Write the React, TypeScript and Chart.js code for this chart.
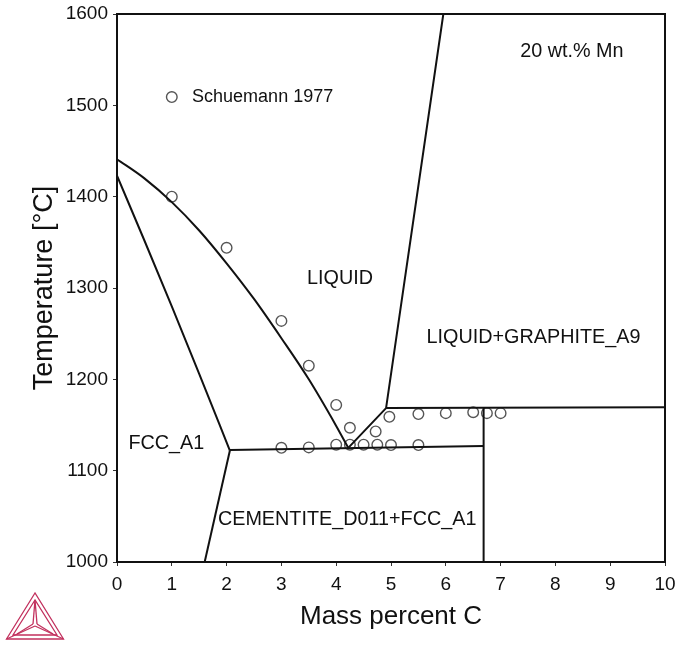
import React, { useEffect, useRef } from "react";
import { Chart, registerables } from "chart.js";

Chart.register(...registerables);

// ---- axis ticks ----
const xTickValues = [0, 1, 2, 3, 4, 5, 6, 7, 8, 9, 10];
const yTickValues = [1000, 1100, 1200, 1300, 1400, 1500, 1600];

// ---- phase boundaries (mass % C, temperature °C) ----
const liquidusFccC = [0, 0.5, 1.0, 1.5, 2.0, 2.5, 3.0, 3.5, 4.0, 4.22];
const liquidusFccT = [1441, 1420, 1394, 1363, 1327, 1288, 1245, 1200, 1149, 1125];

const solidusC = [0, 0.5, 1.0, 1.5, 2.06];
const solidusT = [1423, 1352, 1280, 1206, 1122];

const fccCementiteC = [2.06, 1.6];
const fccCementiteT = [1122, 1000];

const eutecticC = [2.06, 6.69];
const eutecticT = [1122.5, 1127];

const cementiteGraphiteC = [6.69, 6.69];
const cementiteGraphiteT = [1000, 1168.7];

const liquidusGraphiteC = [4.22, 4.91, 5.955];
const liquidusGraphiteT = [1125, 1168.5, 1600];

const graphiteHorizontalC = [4.91, 10];
const graphiteHorizontalT = [1168.5, 1169.5];

// ---- experimental points (Schuemann 1977) ----
const schuemannC = [1.0, 2.0, 3.0, 3.5, 4.0, 4.25, 4.72, 4.97, 5.5, 6.0, 6.5, 6.75, 7.0,
  3.0, 3.5, 4.0, 4.25, 4.5, 4.75, 5.0, 5.5];
const schuemannT = [1400, 1344, 1264, 1215, 1172, 1147, 1143, 1159, 1162, 1163, 1164, 1163, 1163,
  1125, 1125.5, 1128.5, 1128.5, 1128.5, 1128.5, 1128, 1128];

// ---- annotations ----
const legendLabel = "Schuemann 1977";
const legendMarkerC = 1.0;
const legendMarkerT = 1509;
const legendTextC = 1.37;

const regionLabels = [
  { text: "LIQUID", c: 4.07, t: 1310 },
  { text: "LIQUID+GRAPHITE_A9", c: 7.6, t: 1246 },
  { text: "FCC_A1", c: 0.9, t: 1130 },
  { text: "CEMENTITE_D011+FCC_A1", c: 4.2, t: 1046 },
  { text: "20 wt.% Mn", c: 8.3, t: 1559 },
];

const FONT = '"Liberation Sans", Arial, sans-serif';

const toPoints = (xs: number[], ys: number[]) => xs.map((x, i) => ({ x, y: ys[i] }));

const annotationPlugin = {
  id: "annotations",
  afterDatasetsDraw(chart: any) {
    const { ctx, chartArea, scales } = chart;
    const xs = scales.x;
    const ys = scales.y;
    ctx.save();
    // frame
    ctx.strokeStyle = "#111";
    ctx.lineWidth = 2;
    ctx.strokeRect(chartArea.left, chartArea.top, chartArea.right - chartArea.left, chartArea.bottom - chartArea.top);

    // region labels
    ctx.fillStyle = "#111";
    ctx.font = `19.8px ${FONT}`;
    ctx.textBaseline = "middle";
    ctx.textAlign = "center";
    for (const l of regionLabels) {
      ctx.fillText(l.text, xs.getPixelForValue(l.c), ys.getPixelForValue(l.t));
    }

    // legend
    ctx.beginPath();
    ctx.strokeStyle = "#555";
    ctx.lineWidth = 1.4;
    ctx.arc(xs.getPixelForValue(legendMarkerC), ys.getPixelForValue(legendMarkerT), 5.3, 0, Math.PI * 2);
    ctx.stroke();
    ctx.textAlign = "left";
    ctx.font = `18px ${FONT}`;
    ctx.fillText(legendLabel, xs.getPixelForValue(legendTextC), ys.getPixelForValue(legendMarkerT));
    ctx.restore();
  },
  afterDraw(chart: any) {
    // Thermo-Calc logo (decoration)
    const ctx = chart.ctx;
    ctx.save();
    ctx.strokeStyle = "#c2315e";
    ctx.lineWidth = 1.3;
    const tri = (a: number[], b: number[], c: number[]) => {
      ctx.beginPath();
      ctx.moveTo(a[0], a[1]);
      ctx.lineTo(b[0], b[1]);
      ctx.lineTo(c[0], c[1]);
      ctx.closePath();
      ctx.stroke();
    };
    const line = (a: number[], b: number[]) => {
      ctx.beginPath();
      ctx.moveTo(a[0], a[1]);
      ctx.lineTo(b[0], b[1]);
      ctx.stroke();
    };
    const A = [35, 593], B = [6.5, 639], C = [63.5, 639];
    const a = [35, 600], b = [13, 635], c = [57, 635];
    const O = [35, 626];
    tri(A, B, C);
    tri(a, b, c);
    line(a, [33, 624]);
    line(a, [37, 624]);
    line(O, B);
    line(O, C);
    line([33, 624], [17, 634]);
    line([37, 624], [53, 634]);
    ctx.restore();
  },
};

export default function App() {
  const canvasRef = useRef<HTMLCanvasElement | null>(null);

  useEffect(() => {
    if (!canvasRef.current) return;
    const lineStyle = {
      showLine: true,
      pointRadius: 0,
      pointHoverRadius: 0,
      borderColor: "#111",
      borderWidth: 2,
      fill: false,
    };
    const chart = new Chart(canvasRef.current, {
      type: "scatter",
      data: {
        datasets: [
          { ...lineStyle, label: "liquidus FCC", data: toPoints(liquidusFccC, liquidusFccT), cubicInterpolationMode: "monotone" } as any,
          { ...lineStyle, label: "solidus", data: toPoints(solidusC, solidusT), cubicInterpolationMode: "monotone" } as any,
          { ...lineStyle, label: "fcc/cementite", data: toPoints(fccCementiteC, fccCementiteT) },
          { ...lineStyle, label: "eutectic", data: toPoints(eutecticC, eutecticT) },
          { ...lineStyle, label: "cementite/graphite", data: toPoints(cementiteGraphiteC, cementiteGraphiteT) },
          { ...lineStyle, label: "liquidus graphite", data: toPoints(liquidusGraphiteC, liquidusGraphiteT) },
          { ...lineStyle, label: "graphite eutectic", data: toPoints(graphiteHorizontalC, graphiteHorizontalT) },
          {
            label: legendLabel,
            data: toPoints(schuemannC, schuemannT),
            showLine: false,
            pointStyle: "circle",
            pointRadius: 5.3,
            pointBorderWidth: 1.4,
            pointBorderColor: "#555",
            pointBackgroundColor: "rgba(0,0,0,0)",
          } as any,
        ],
      },
      options: {
        animation: false,
        responsive: false,
        maintainAspectRatio: false,
        layout: { padding: { left: 0, top: 14, right: 10, bottom: 0 } },
        plugins: { legend: { display: false }, tooltip: { enabled: false } },
        scales: {
          x: {
            type: "linear",
            min: 0,
            max: 10,
            afterBuildTicks: (s: any) => {
              s.ticks = xTickValues.map((v) => ({ value: v }));
            },
            afterFit: (s: any) => {
              s.height = 84;
              s.paddingLeft = 0;
              s.paddingRight = 0;
            },
            grid: { drawOnChartArea: false, drawTicks: true, tickLength: 4, tickColor: "#333", tickWidth: 1 },
            border: { display: true, color: "#111", width: 2 },
            ticks: { color: "#111", font: { family: FONT, size: 19 }, padding: 7, maxRotation: 0, callback: (v: any) => String(v) },
            title: { display: true, text: "Mass percent C", color: "#111", font: { family: FONT, size: 26 }, padding: { bottom: 14, top: 0 } },
          },
          y: {
            type: "linear",
            min: 1000,
            max: 1600,
            afterBuildTicks: (s: any) => {
              s.ticks = yTickValues.map((v) => ({ value: v }));
            },
            afterFit: (s: any) => {
              s.width = 117;
              s.paddingTop = 0;
              s.paddingBottom = 0;
            },
            grid: { drawOnChartArea: false, drawTicks: true, tickLength: 4, tickColor: "#333", tickWidth: 1 },
            border: { display: true, color: "#111", width: 2 },
            ticks: { color: "#111", font: { family: FONT, size: 19 }, padding: 5, callback: (v: any) => String(v) },
            title: { display: true, text: "Temperature [°C]", color: "#111", font: { family: FONT, size: 27 }, padding: { top: 28, bottom: 0 } },
          },
        },
      },
      plugins: [annotationPlugin],
    });
    return () => chart.destroy();
  }, []);

  return (
    <div style={{ position: "absolute", left: 0, top: 0, width: 675, height: 646, background: "#fff" }}>
      <canvas ref={canvasRef} width={675} height={646} style={{ display: "block", width: 675, height: 646 }} />
    </div>
  );
}
